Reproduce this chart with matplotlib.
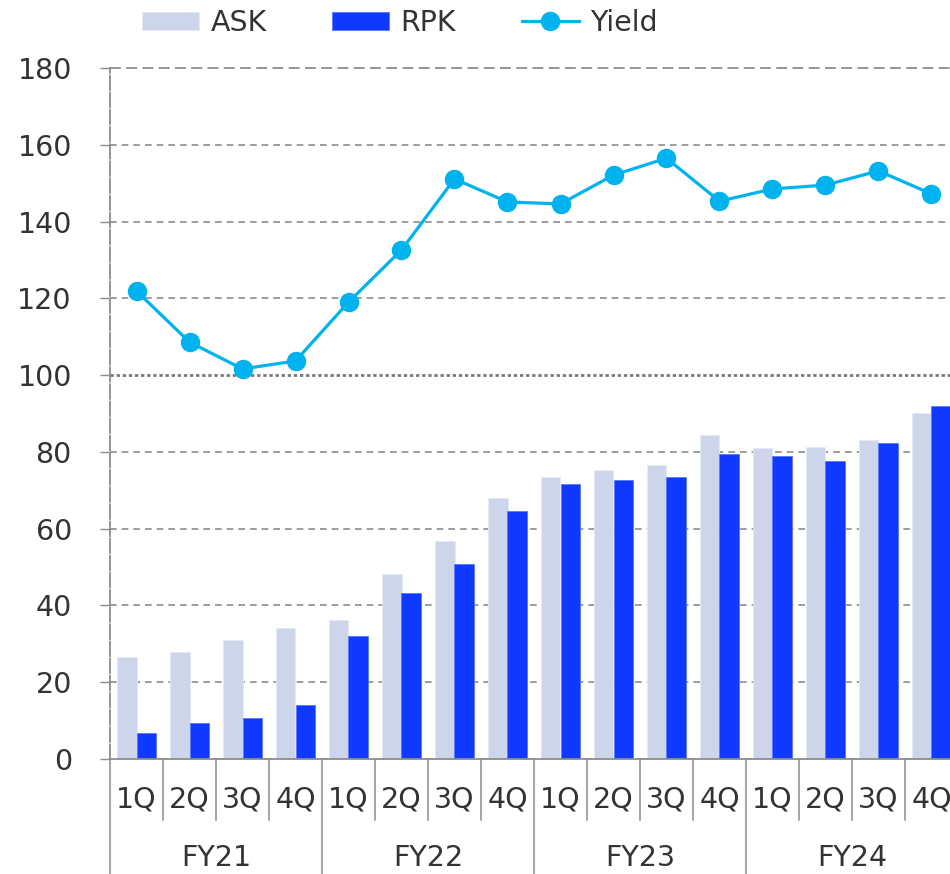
import numpy as np
import matplotlib.pyplot as plt
import matplotlib.transforms as mtransforms

quarters = ['1Q', '2Q', '3Q', '4Q'] * 4
years = ['FY21', 'FY22', 'FY23', 'FY24']
ask = [26.5, 27.9, 31.0, 34.1, 36.3, 48.2, 56.8, 68.0,
       73.5, 75.3, 76.6, 84.4, 81.0, 81.4, 83.1, 90.2]
rpk = [6.7, 9.4, 10.7, 14.0, 32.0, 43.2, 50.8, 64.6,
       71.6, 72.7, 73.5, 79.4, 79.0, 77.6, 82.2, 92.0]
yld = [121.9, 108.6, 101.6, 103.7, 119.0, 132.6, 151.1, 145.1,
       144.6, 152.1, 156.5, 145.3, 148.5, 149.5, 153.2, 147.2]
yticks = [0, 20, 40, 60, 80, 100, 120, 140, 160, 180]

c_ask = '#CCD5EA'
c_rpk = '#1039FF'
c_yld = '#00B2EE'
c_grid = '#8C8C8C'
c_txt = '#333333'
fs = 20.5

fig = plt.figure(figsize=(9.5, 8.74), dpi=100)
ax = fig.add_axes([110/950, 115/874, 848/950, 691/874])

x = np.arange(len(ask))
w = 0.36
b1 = ax.bar(x - w/2, ask, w, color=c_ask, edgecolor='#E4E9F5', linewidth=0.6, label='ASK', zorder=2)
b2 = ax.bar(x + w/2, rpk, w, color=c_rpk, edgecolor='#5A78FF', linewidth=0.6, label='RPK', zorder=2)
l1, = ax.plot(x, yld, color=c_yld, lw=2.3, marker='o', ms=13, label='Yield', zorder=3)

ax.set_xlim(-0.5, len(ask) - 0.5)
ax.set_ylim(0, 180)

# gridlines
for v in yticks[1:]:
    if v == 100:
        ax.axhline(v, color='#7A7A7A', lw=2.0, ls=(0, (1.2, 1.0)), zorder=1)
    elif v == 180:
        ax.axhline(v, color=c_grid, lw=1.3, ls=(0, (6, 3)), zorder=1, clip_on=False)
    else:
        ax.axhline(v, color=c_grid, lw=1.2, ls=(0, (4, 3)), zorder=1)

ax.set_yticks(yticks)
ax.tick_params(axis='y', length=7.5, width=1.0, color=c_grid, pad=20,
               labelsize=fs, labelcolor=c_txt)
ax.set_xticks([])

for s in ['top', 'right']:
    ax.spines[s].set_visible(False)
ax.spines['bottom'].set_color(c_grid)
ax.spines['bottom'].set_linewidth(1.3)
ax.spines['left'].set_color(c_grid)
ax.spines['left'].set_linewidth(1.3)
ax.spines['left'].set_linestyle((0, (8, 1.5)))

# two-level category axis
trans = mtransforms.blended_transform_factory(ax.transData, ax.transAxes)
for i in range(len(quarters) + 1):
    b = i - 0.5
    bottom = -0.2 if i % 4 == 0 else -0.088
    ax.plot([b, b], [0, bottom], transform=trans, color=c_grid, lw=1.1,
            clip_on=False, zorder=1)
for i, q in enumerate(quarters):
    ax.text(i, -0.059, q, transform=trans, ha='center', va='center',
            fontsize=fs, color=c_txt)
for j, fy in enumerate(years):
    ax.text(4 * j + 1.5, -0.143, fy, transform=trans, ha='center', va='center',
            fontsize=fs, color=c_txt)

fig.legend([b1, b2, l1], ['ASK', 'RPK', 'Yield'], loc='center',
           bbox_to_anchor=(400/950, 1 - 23/874), ncol=3, frameon=False,
           fontsize=fs, labelcolor=c_txt, handlelength=2.0, handleheight=0.6,
           handletextpad=0.4, columnspacing=2.3)

fig.savefig('out.png', dpi=100)
